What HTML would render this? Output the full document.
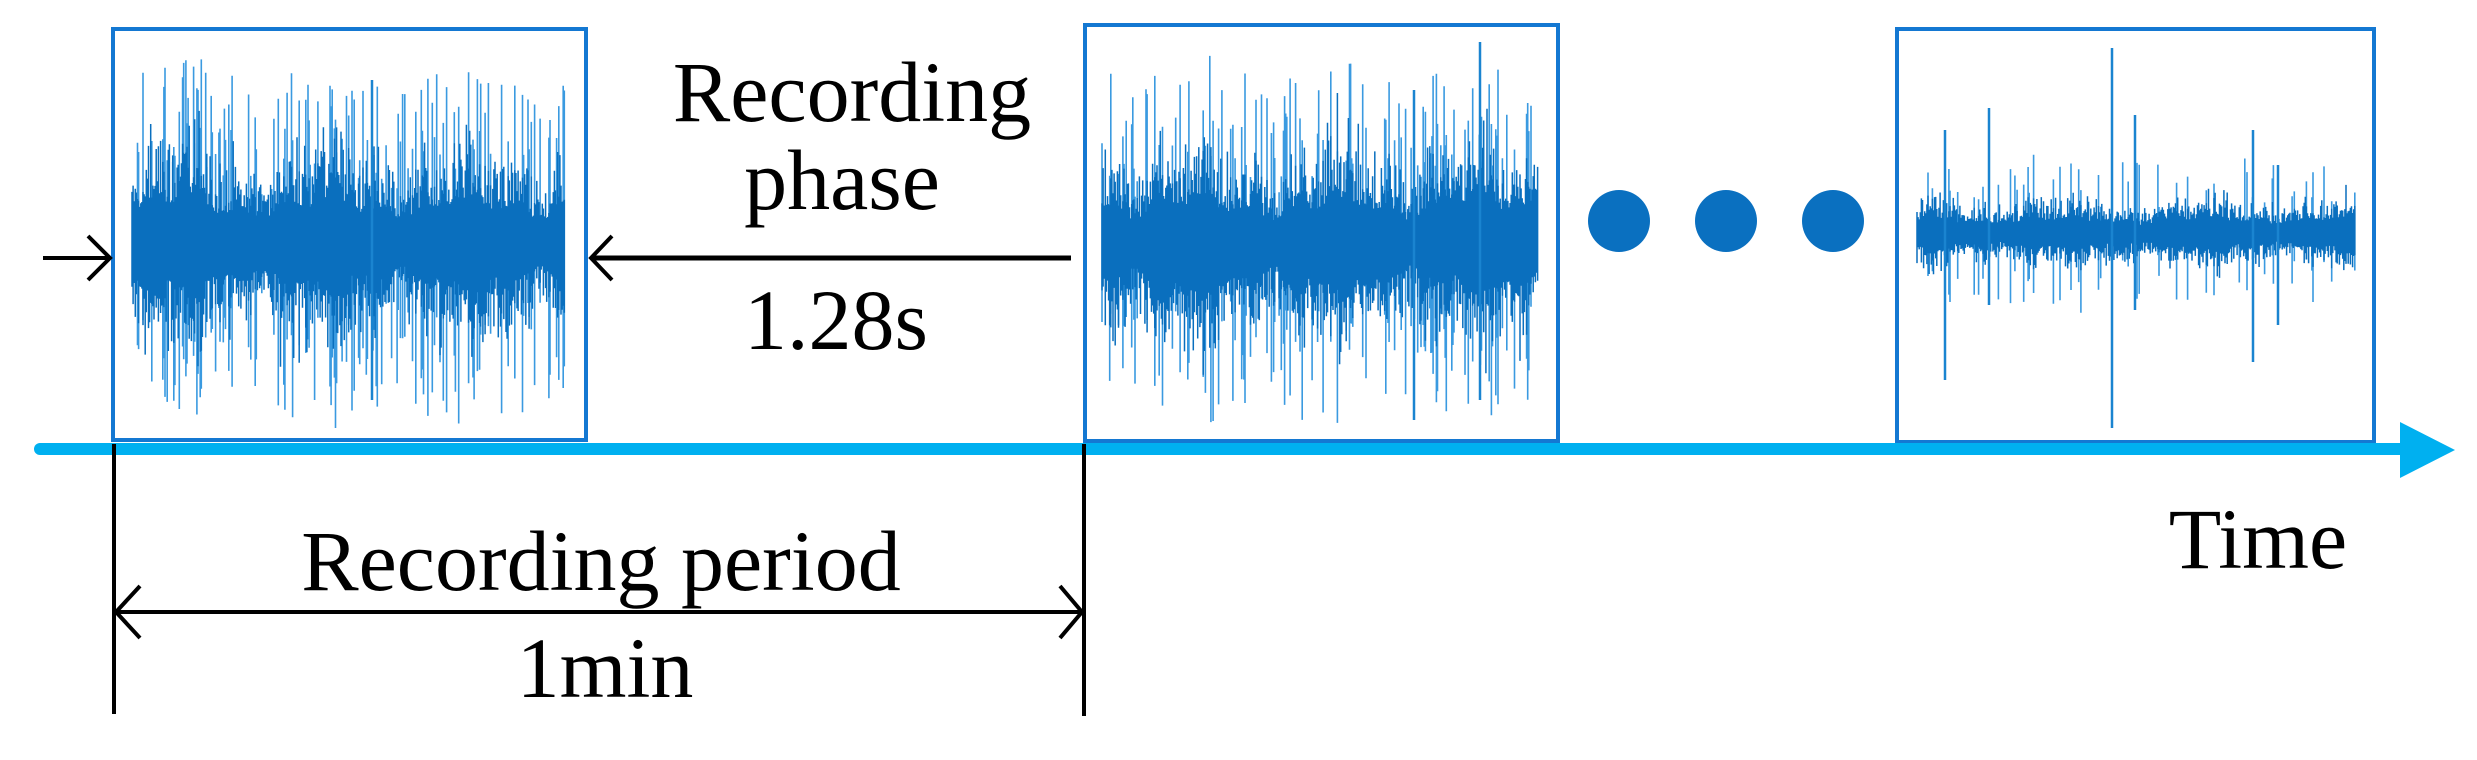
<!DOCTYPE html>
<html><head><meta charset="utf-8"><style>
html,body{margin:0;padding:0;background:#fff}
svg{display:block}
text{font-family:"Liberation Serif",serif;fill:#000}
</style></head><body>
<svg id="s" width="2477" height="760" viewBox="0 0 2477 760" xmlns="http://www.w3.org/2000/svg">
<g id="waves"></g>
<rect x="113" y="29" width="473" height="411" fill="none" stroke="#1478d2" stroke-width="4"/>
<rect x="1085" y="25" width="473" height="416" fill="none" stroke="#1478d2" stroke-width="4"/>
<rect x="1897" y="29" width="477" height="413" fill="none" stroke="#1478d2" stroke-width="4"/>
<line x1="40" y1="449" x2="2405" y2="449" stroke="#00b0f0" stroke-width="12" stroke-linecap="round"/>
<polygon points="2400,422 2455,450 2400,478" fill="#00b0f0"/>
<line x1="114" y1="444" x2="114" y2="714" stroke="#000" stroke-width="4"/>
<line x1="1084" y1="444" x2="1084" y2="716" stroke="#000" stroke-width="4"/>
<line x1="116" y1="612" x2="1082" y2="612" stroke="#000" stroke-width="4"/>
<polyline points="140,586 116,612 140,638" fill="none" stroke="#000" stroke-width="4"/>
<polyline points="1060,586 1082,612 1060,638" fill="none" stroke="#000" stroke-width="4"/>
<line x1="43" y1="258" x2="110" y2="258" stroke="#000" stroke-width="4"/>
<polyline points="88,236 110,258 88,280" fill="none" stroke="#000" stroke-width="4"/>
<line x1="591" y1="258" x2="1071" y2="258" stroke="#000" stroke-width="5"/>
<polyline points="612,236 591,258 612,280" fill="none" stroke="#000" stroke-width="4"/>
<circle cx="1619" cy="221" r="31" fill="#0a70c0"/>
<circle cx="1726" cy="221" r="31" fill="#0a70c0"/>
<circle cx="1833" cy="221" r="31" fill="#0a70c0"/>
<text x="852" y="121" font-size="86" text-anchor="middle">Recording</text>
<text x="842" y="209" font-size="86" text-anchor="middle">phase</text>
<text x="836" y="349" font-size="86" text-anchor="middle">1.28s</text>
<text x="601" y="590" font-size="86" text-anchor="middle">Recording period</text>
<text x="605" y="697" font-size="86" text-anchor="middle">1min</text>
<text x="2258" y="568" font-size="86" text-anchor="middle">Time</text>
</svg>
<script>
(function(){
var seed=12345;function r(){seed=(seed*1103515245+12345)&0x7fffffff;return seed/0x7fffffff;}
function g(){return (r()+r()+r()+r()-2)/1.2;}
var ns="http://www.w3.org/2000/svg",W=document.getElementById("waves");
function add(d,c,w){var p=document.createElementNS(ns,"path");p.setAttribute("d",d);p.setAttribute("stroke",c);p.setAttribute("stroke-width",w);W.appendChild(p);}
function wave(x0,x1,cy,core,spike,prob){
  var d1="",d2="";
  for(var x=x0;x<=x1;x+=1.1){
    var env=1+0.2*Math.sin(x/23)+0.15*Math.sin(x/7.3);
    var a=core*env*(0.55+Math.abs(g()));
    var b=core*env*(0.55+Math.abs(g()));
    d1+="M"+x.toFixed(1)+" "+(cy-a).toFixed(1)+"V"+(cy+b).toFixed(1);
    if(r()<prob){
      var s1=core*env+r()*spike,s2=core*env+r()*spike;
      d2+="M"+x.toFixed(1)+" "+(cy-s1).toFixed(1)+"V"+(cy+s2).toFixed(1);
    }
  }
  add(d2,"#3a9ae0","1.6");
  add(d1,"#0a6fbe","1.5");
}
wave(132,565,243,62,110,0.3);
wave(1102,1538,243,62,110,0.3);
wave(1917,2355,233,22,55,0.12);
function sp(x,t,b){add("M"+x+" "+t+"V"+b,"#1a84d0","2.5");}
sp(1945,130,380);sp(1989,108,305);sp(2112,48,428);sp(2135,115,310);sp(2253,130,362);sp(2278,165,325);
sp(372,80,400);sp(1480,42,400);sp(1414,90,420);
})();
</script>
</body></html>
